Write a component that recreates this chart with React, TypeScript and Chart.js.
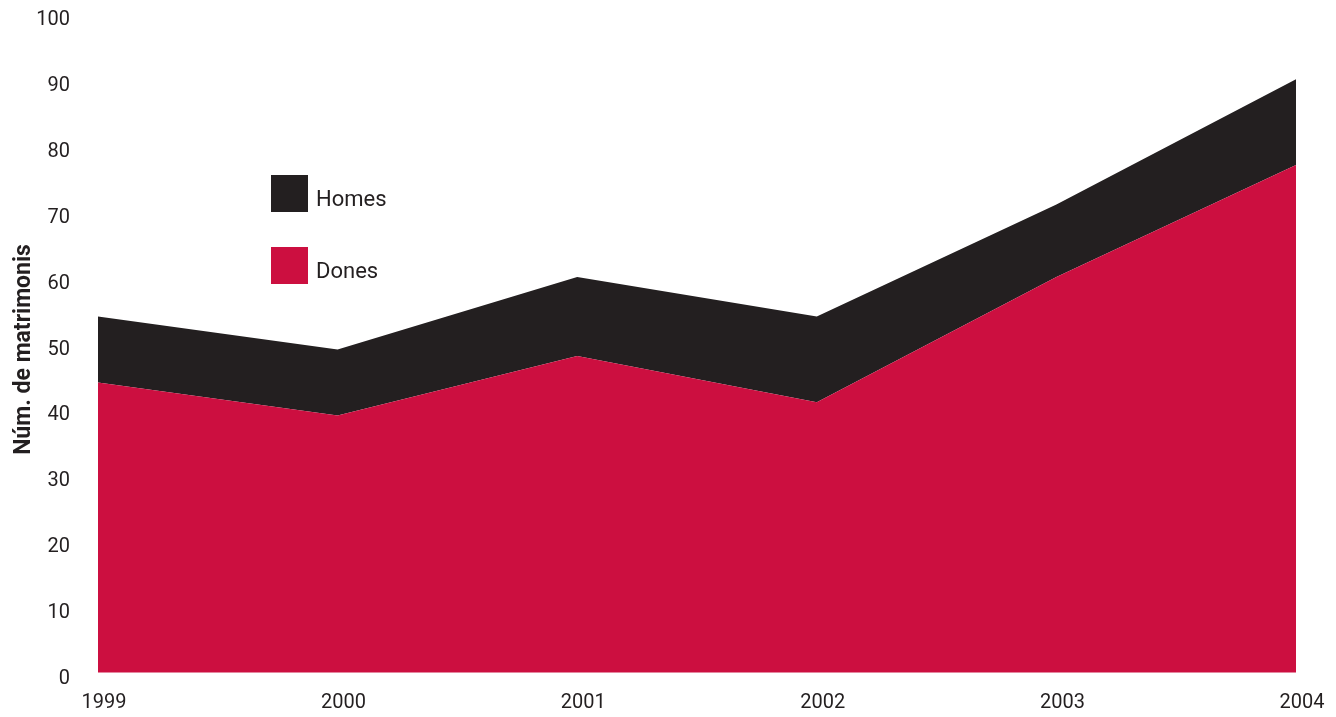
import React, { useEffect, useRef } from "react";
import { Chart, registerables } from "chart.js";

Chart.register(...registerables);

const years = ["1999", "2000", "2001", "2002", "2003", "2004"];
const dones = [45, 40, 49, 42, 61, 78];
const homes = [10, 10, 12, 13, 11, 13];
const yTicks = [0, 10, 20, 30, 40, 50, 60, 70, 80, 90, 100];

const RED = "#CC0F40";
const DARK = "#231F20";
const FONT = "Roboto, 'DejaVu Sans', sans-serif";

export default function App() {
  const ref = useRef<HTMLCanvasElement | null>(null);

  useEffect(() => {
    if (!ref.current) return;
    const chart = new Chart(ref.current, {
      type: "line",
      data: {
        labels: years,
        datasets: [
          {
            label: "Dones",
            data: dones,
            backgroundColor: RED,
            borderColor: RED,
            borderWidth: 0,
            pointRadius: 0,
            fill: { value: 1 },
            tension: 0,
          },
          {
            label: "Homes",
            data: homes,
            backgroundColor: DARK,
            borderColor: DARK,
            borderWidth: 0,
            pointRadius: 0,
            fill: "-1",
            tension: 0,
          },
        ],
      },
      options: {
        animation: false,
        responsive: false,
        maintainAspectRatio: false,
        layout: { padding: { top: 0, right: 40, bottom: 2, left: 0 } },
        plugins: {
          legend: { display: false },
          tooltip: { enabled: false },
        },
        scales: {
          x: {
            type: "category",
            offset: false,
            afterFit: (scale: any) => {
              scale.height = 36;
            },
            grid: { display: false, drawTicks: false },
            border: { display: false },
            ticks: {
              color: DARK,
              font: { family: FONT, size: 20, weight: "400" },
              padding: 12,
              labelOffset: 6,
              maxRotation: 0,
              autoSkip: false,
            },
          },
          y: {
            stacked: true,
            min: 0,
            max: 100,
            afterFit: (scale: any) => {
              scale.width = 98;
              scale.paddingTop = 20;
              scale.paddingBottom = 0;
            },
            afterBuildTicks: (scale: any) => {
              scale.ticks = yTicks.map((v) => ({ value: v }));
            },
            grid: { display: false, drawTicks: false },
            border: { display: false },
            title: {
              display: true,
              text: "Núm. de matrimonis",
              color: DARK,
              font: { family: FONT, size: 23, weight: "bold" },
              padding: { top: 10, bottom: 4 },
            },
            ticks: {
              color: DARK,
              font: { family: FONT, size: 20, weight: "400" },
              padding: 28,
            },
          },
        },
      },
    });
    return () => chart.destroy();
  }, []);

  const legendItem = (top: number, color: string, text: string) => (
    <div
      style={{
        position: "absolute",
        left: 271,
        top,
        height: 37,
        display: "flex",
        alignItems: "center",
        fontFamily: FONT,
        fontSize: 22,
        fontWeight: 400,
        color: DARK,
      }}
    >
      <div style={{ width: 37, height: 37, background: color, marginRight: 8 }} />
      <span style={{ position: "relative", top: 5 }}>{text}</span>
    </div>
  );

  return (
    <div
      style={{
        position: "absolute",
        left: 0,
        top: 0,
        width: 1336,
        height: 717,
        background: "#fff",
      }}
    >
      <canvas ref={ref} width={1336} height={717} style={{ display: "block" }} />
      {legendItem(175, DARK, "Homes")}
      {legendItem(247, RED, "Dones")}
    </div>
  );
}
